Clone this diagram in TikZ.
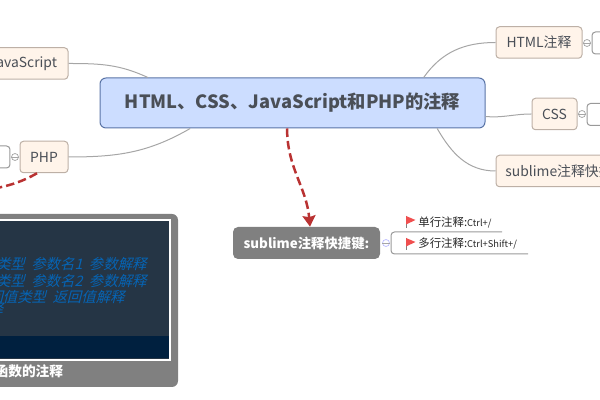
\documentclass[tikz,border=0pt]{standalone}
\usepackage{fontspec}
\setmainfont{Noto Sans CJK SC}
\newfontfamily\slantfont[FakeSlant=0.25]{Noto Sans CJK SC}
\usetikzlibrary{arrows.meta}
\definecolor{topicfill}{HTML}{FFF4EA}
\definecolor{topicline}{HTML}{BDB0A6}
\definecolor{mainfill}{HTML}{CCDDFF}
\definecolor{mainline}{HTML}{5A74A6}
\definecolor{textgrey}{HTML}{4A4F57}
\definecolor{linkred}{HTML}{B93232}
\definecolor{flagred}{HTML}{F04F4F}
\definecolor{slate}{HTML}{253545}
\definecolor{navy}{HTML}{00203F}
\definecolor{codeblue}{HTML}{0664B4}
\tikzset{
    topic/.style={draw=topicline,fill=topicfill,rounded corners=0.07cm,line width=0.02cm,
        text=textgrey,font=\fontsize{7.9}{9}\selectfont,minimum height=0.63cm,inner sep=0},
    leafbox/.style={draw=black!40,fill=white,rounded corners=0.07cm,line width=0.02cm,
        minimum height=0.44cm,inner sep=0},
    fold/.style={circle,draw=black!35,fill=white,line width=0.015cm,minimum size=0.14cm,inner sep=0},
    branch/.style={draw=black!35,line width=0.02cm},
    jump/.style={draw=linkred,line width=0.05cm,dash pattern=on 0.17cm off 0.08cm},
    leaftext/.style={anchor=west,inner sep=0,text=black!85,font=\fontsize{6.5}{8}\selectfont},
    codeline/.style={anchor=east,inner sep=0,text=codeblue,font=\fontsize{8.2}{9}\slantfont},
}
\newcommand{\redflag}[1]{\draw[draw=black!50,line width=0.01cm] #1 -- +(0,-0.24);
    \fill[flagred] #1 -- +(0.19,-0.08) -- +(0,-0.17) -- cycle;}
\begin{document}
\begin{tikzpicture}
    \useasboundingbox (0,0) rectangle (12,8);
    \clip (0,0) rectangle (12,8);

    \node[topic,minimum width=1.72cm] (html) at (10.78,7.15) {HTML注释};
    \node[topic,minimum width=0.9cm] (css) at (11.09,5.72) {CSS};
    \node[topic,minimum width=2.8cm] (keys) at (11.32,4.58) {sublime注释快捷键};
    \node[topic,minimum width=1.8cm] (js) at (0.46,6.73) {JavaScript};
    \node[topic,minimum width=0.96cm] (php) at (0.88,4.86) {PHP};
    \node[draw=mainline,fill=mainfill,rounded corners=0.12cm,line width=0.02cm,
        minimum width=7.7cm,minimum height=1cm,inner sep=0,text=textgrey,
        font=\fontsize{10.4}{12}\bfseries\selectfont] (main) at (5.85,5.94)
        {HTML、CSS、JavaScript和PHP的注释};

    \draw[branch] (main.11.3) to[out=55,in=180] (html.west);
    \draw[branch] (main.-4) to[out=-5,in=180] (css.west);
    \draw[branch] (main.-10.6) to[out=-60,in=180] (keys.west);
    \draw[branch] (js.east) to[out=0,in=155] (main.170.2);
    \draw[branch] (php.east) to[out=0,in=-150] (main.-166.6);

    \node[fold] (htmlfold) at (11.74,7.14) {};
    \node[leafbox,minimum width=0.96cm] (htmlleaf) at (12.32,7.14) {};
    \node[fold] (cssfold) at (11.64,5.72) {};
    \node[leafbox,minimum width=1.06cm] (cssleaf) at (12.27,5.71) {};
    \node[fold] (phpfold) at (0.3,4.86) {};
    \node[leafbox,minimum width=1cm] (phpleaf) at (-0.3,4.86) {};

    % picture in the lower left corner
    \node[fill=black!50,rounded corners=0.12cm,minimum width=4.56cm,minimum height=3.46cm,inner sep=0]
        (shot) at (1.28,1.99) {};
    \node[draw=white,fill=slate,line width=0.03cm,minimum width=4.4cm,minimum height=2.8cm,inner sep=0]
        (screen) at (1.2,2.2) {};
    \node[fill=navy,minimum width=4.36cm,minimum height=0.44cm,inner sep=0] (strip) at (1.2,1.06) {};
    \node[codeline] (paramone) at (2.94,2.72) {类型\ \ 参数名1\ \ 参数解释};
    \node[codeline] (paramtwo) at (2.94,2.38) {类型\ \ 参数名2\ \ 参数解释};
    \node[codeline] (result) at (2.5,2.06) {回值类型\ \ 返回值解释};
    \node[codeline] (tail) at (0.07,1.82) {释};
    \node[anchor=east,inner sep=0,text=white,font=\fontsize{7.8}{9}\bfseries\selectfont] (caption)
        at (1.27,0.57) {函数的注释};

    \node[fill=black!50,rounded corners=0.1cm,minimum width=2.94cm,minimum height=0.64cm,inner sep=0,
        text=white,font=\fontsize{7.6}{9}\bfseries\selectfont] (sublime) at (6.13,3.14) {sublime注释快捷键:};
    \node[fold,draw=blue!25] (subfold) at (7.72,3.14) {};
    \foreach \f in {htmlfold,cssfold,phpfold,subfold}
        \draw[draw=black!35,line width=0.012cm] (\f.west) -- (\f.east);

    \coordinate (topend) at (10.04,3.36);
    \coordinate (bottomend) at (10.56,2.92);
    \draw[draw=black!40,line width=0.02cm,rounded corners=0.07cm]
        (topend) -- (7.82,3.36) -- (7.82,2.92) -- (bottomend);

    \redflag{(8.12,3.68)}
    \node[leaftext] (single) at (8.36,3.55) {单行注释:{\fontsize{5.3}{6}\selectfont Ctrl+/}};
    \redflag{(8.12,3.24)}
    \node[leaftext] (multi) at (8.36,3.12) {多行注释:{\fontsize{5.3}{6}\selectfont Ctrl+Shift+/}};

    \coordinate (phpjump) at (-0.8,4.08);
    \draw[jump] (php.south) ++(-0.14,0) to[out=-150,in=15] (phpjump);
    \draw[jump,-{Stealth[length=0.22cm,width=0.26cm,inset=0.03cm]}] (main.-102.4) to[out=-90,in=95] (sublime.78);
\end{tikzpicture}
\end{document}
